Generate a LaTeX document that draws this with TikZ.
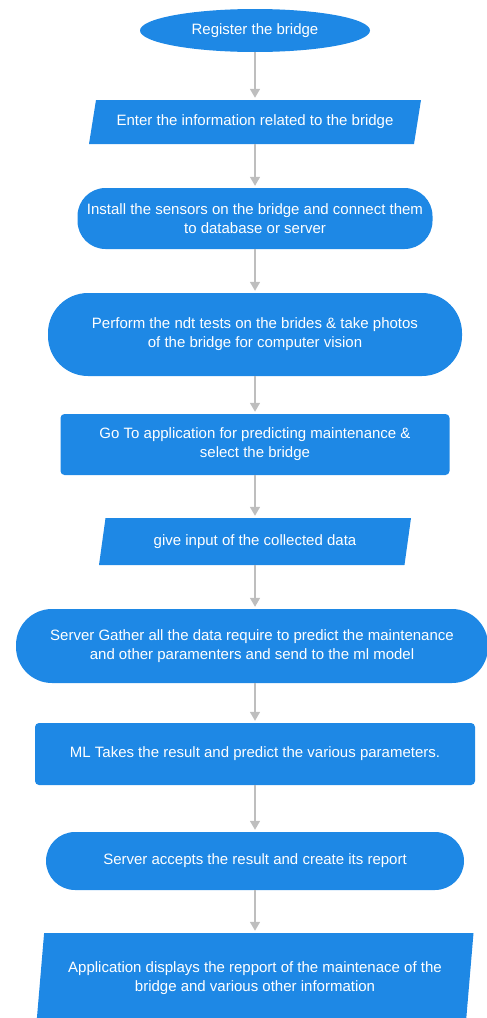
\documentclass[tikz,border=0pt]{standalone}
\usepackage{fontspec}
\setmainfont{Liberation Sans}
\usetikzlibrary{shapes.geometric,arrows.meta}
\definecolor{boxblue}{RGB}{30,136,229}
\definecolor{arrgray}{RGB}{190,190,190}
\begin{document}
\begin{tikzpicture}[x=1pt,y=-1pt,
  box/.style={fill=boxblue, text=white, align=center, inner sep=0pt, font=\fontsize{15}{19}\selectfont},
  pill/.style={box, rectangle, rounded corners=#1},
  io/.style 2 args={box, trapezium, trapezium stretches body, trapezium left angle=#1, trapezium right angle=#2},
  arr/.style={draw=arrgray, line width=1.5pt, -{Triangle[width=10pt,length=9pt]}, shorten >=2pt}]
\useasboundingbox (0,0) rectangle (487,1018);
\clip (0,0) rectangle (487,1018);

\node[box, ellipse, minimum width=230pt, minimum height=43pt] (reg) at (255,30.5) {Register the bridge};
\node[io={63.4}{116.6}, minimum width=332pt, minimum height=44pt] (info) at (255,122) {Enter the information related to the bridge};
\node[pill=28pt, minimum width=355pt, minimum height=61pt] (sens) at (255,218.5) {Install the sensors on the bridge and connect them\\to database or server};
\node[pill=40pt, minimum width=414pt, minimum height=83pt] (ndt) at (255,334.5) {Perform the ndt tests on the brides \& take photos\\of the bridge for computer vision};
\node[pill=4pt, minimum width=389pt, minimum height=61pt] (app) at (255,444.5) {Go To application for predicting maintenance \&\\select the bridge};
\node[io={65}{115}, minimum width=312pt, minimum height=47pt] (input) at (255,541.5) {give input of the collected data};
\node[pill=36pt, minimum width=472pt, minimum height=74pt] (gather) at (252,646) {Server Gather all the data require to predict the maintenance\\and other paramenters and send to the ml model};
\node[pill=4pt, minimum width=440pt, minimum height=62pt] (ml) at (255,754) {ML Takes the result and predict the various parameters.};
\node[pill=29pt, minimum width=418pt, minimum height=58pt] (acc) at (255,861) {Server accepts the result and create its report};
\node[io={77}{103}, minimum width=437pt, minimum height=90pt] (disp) at (255,978) {Application displays the repport of the maintenace of the\\bridge and various other information};

\draw[arr] (reg.south) -- (reg.south |- info.north);
\draw[arr] (info.south) -- (info.south |- sens.north);
\draw[arr] (sens.south) -- (sens.south |- ndt.north);
\draw[arr] (ndt.south) -- (ndt.south |- app.north);
\draw[arr] (app.south) -- (app.south |- input.north);
\draw[arr] (input.south) -- (input.south |- gather.north);
\draw[arr] (gather.south -| ndt.south) -- (ndt.south |- ml.north);
\draw[arr] (ml.south) -- (ml.south |- acc.north);
\draw[arr] (acc.south) -- (acc.south |- disp.north);
\end{tikzpicture}
\end{document}
